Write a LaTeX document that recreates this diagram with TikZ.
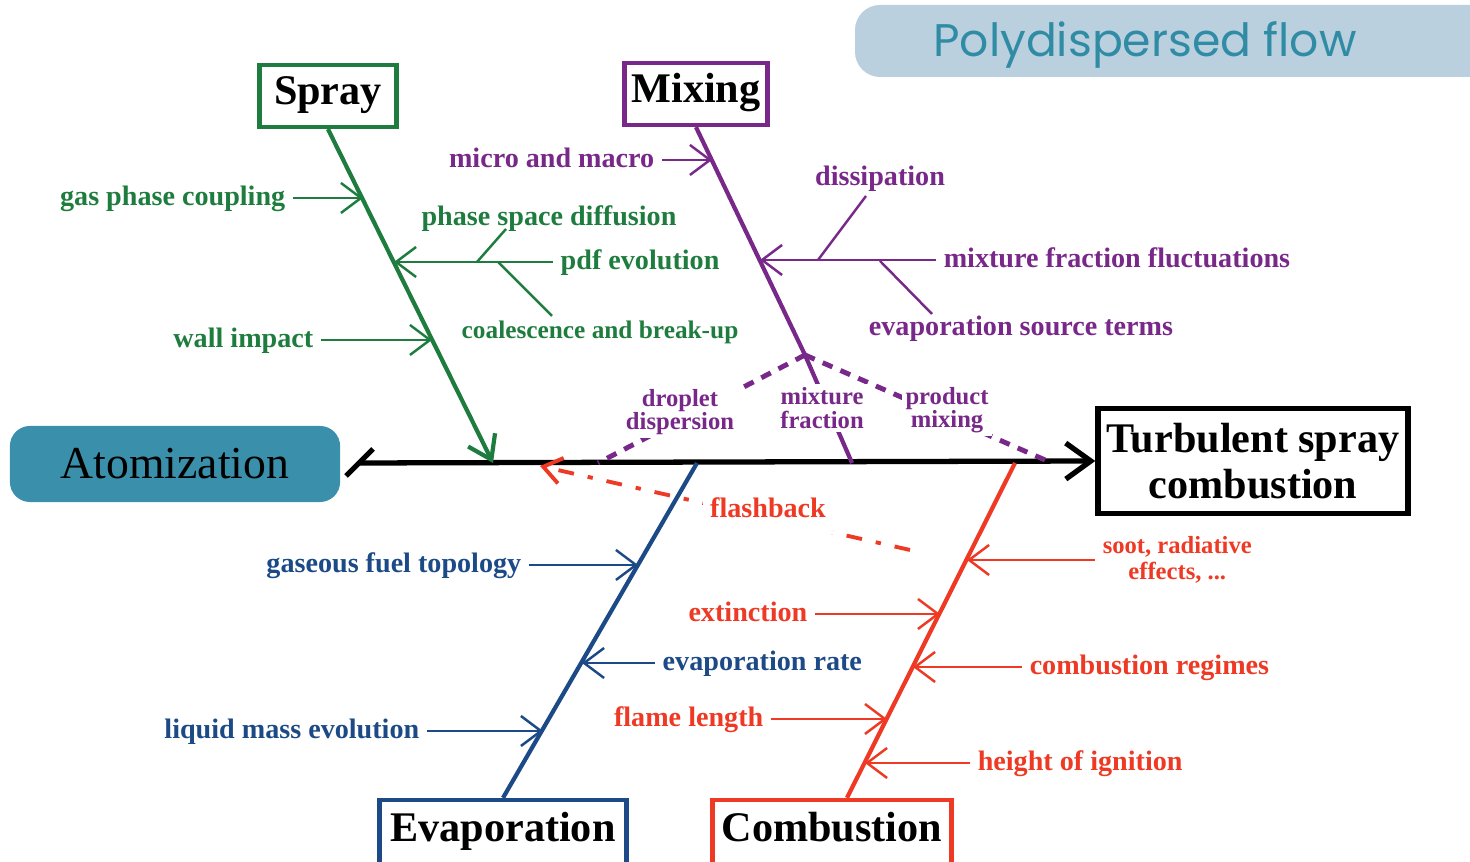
\documentclass[tikz,border=0pt]{standalone}
\usepackage{fontspec}
\setmainfont{Liberation Serif}
\newfontfamily\polyfont{Poppins}
\usetikzlibrary{arrows.meta, calc, positioning}

\definecolor{sprayc}{RGB}{30,125,62}
\definecolor{mixc}{RGB}{120,40,136}
\definecolor{evapc}{RGB}{28,74,134}
\definecolor{combc}{RGB}{238,58,36}
\definecolor{atomc}{RGB}{58,143,171}
\definecolor{polybg}{RGB}{186,208,222}
\definecolor{polytx}{RGB}{48,140,165}

\begin{document}
\begin{tikzpicture}[x=0.01cm, y=-0.01cm,
    lbl/.style={font=\fontsize{8}{9}\selectfont\bfseries, inner sep=2pt, text height=0.7em, text depth=0.25em},
    small/.style={font=\fontsize{7}{6.6}\selectfont\bfseries, align=center, inner sep=1pt, fill=white},
    catbox/.style={draw, line width=1.2pt, fill=white, inner sep=0pt, text height=0.7em, text depth=0.2em, font=\fontsize{12}{13}\selectfont\bfseries},
    bone/.style={line width=1.2pt},
    twig/.style={line width=0.7pt, -{Straight Barb[length=2mm, width=3mm]}},
    branch/.style={line width=1.4pt, dash pattern=on 3pt off 2.5pt}]
    \useasboundingbox (0,0) rectangle (1470,862);

    % Title
    \fill[polybg, rounded corners=2.5mm] (855,5) rectangle (1520,77);
    \node[font=\polyfont\fontsize{13}{15}\selectfont, text=polytx] (poly) at (1145,45) {Polydispersed flow};

    % Head and tail
    \node[fill=atomc, rounded corners=2mm, minimum width=3.3cm, minimum height=0.76cm, font=\fontsize{13}{14}\selectfont] (atom) at (175,464) {Atomization};
    \node[draw, line width=1.5pt, fill=white, inner sep=0pt, font=\fontsize{12}{13}\selectfont\bfseries, align=center, minimum width=3.1cm, minimum height=1.05cm] (effect) at (1253,461) {Turbulent spray\\combustion};

    % Spine
    \coordinate (tail) at (360,463);
    \draw[line width=1.5pt, -{Straight Barb[length=2.5mm, width=3.6mm]}] (tail) -- (effect.west);
    \draw[line width=1.5pt] ($(tail)+(-14,13)$) -- ($(tail)+(13,-14)$);

    % Categories
    \node[catbox, draw=sprayc, minimum width=1.37cm, minimum height=0.62cm] (spray) at (328,96) {Spray};
    \node[catbox, draw=mixc, minimum width=1.43cm, minimum height=0.62cm] (mixing) at (696,94) {Mixing};
    \node[catbox, draw=evapc, minimum width=2.47cm, minimum height=0.66cm] (evap) at (503,833) {Evaporation};
    \node[catbox, draw=combc, minimum width=2.39cm, minimum height=0.66cm] (comb) at (832,833) {Combustion};

    % Bones
    \coordinate (sprayEnd) at (493,463);
    \coordinate (mixJoin) at (805,355);
    \coordinate (evapEnd) at (697,463);
    \coordinate (combFoot) at ($(comb.north)+(15,0)$);
    \coordinate (combEnd) at (1015,463);
    \draw[bone, sprayc, -{Straight Barb[length=2.2mm, width=3mm]}] (spray.south) -- (sprayEnd);
    \draw[bone, mixc] (mixing.south) -- (mixJoin);
    \draw[bone, evapc] (evap.north) -- (evapEnd);
    \draw[bone, combc] (combFoot) -- (combEnd);

    % Spray causes
    \coordinate (s1) at (363,198);
    \coordinate (s2) at (394,262);
    \coordinate (s3) at (432,340);
    \node[lbl, text=sprayc, anchor=east] (gpc) at (293,198) {gas phase coupling};
    \node[lbl, text=sprayc, anchor=west] (pdf) at (553,262) {pdf evolution};
    \node[lbl, text=sprayc, anchor=east] (wall) at (321,340) {wall impact};
    \node[lbl, text=sprayc] (psd) at (549,218) {phase space diffusion};
    \node[lbl, text=sprayc, font=\fontsize{7.2}{9}\selectfont\bfseries] (coal) at (600,331) {coalescence and break-up};
    \draw[twig, sprayc] (gpc) -- (s1);
    \draw[twig, sprayc] (pdf) -- (s2);
    \draw[twig, sprayc] (wall) -- (s3);
    \draw[line width=0.7pt, sprayc] (477,262) -- (506,229);
    \draw[line width=0.7pt, sprayc] (498,262) -- (552,316);

    % Mixing causes
    \coordinate (m1) at (712,160);
    \coordinate (m2) at (760,260);
    \node[lbl, text=mixc, anchor=east] (mam) at (662,160) {micro and macro};
    \node[lbl, text=mixc, anchor=west] (mff) at (936,260) {mixture fraction fluctuations};
    \node[lbl, text=mixc] (diss) at (880,178) {dissipation};
    \node[lbl, text=mixc] (est) at (1021,328) {evaporation source terms};
    \draw[twig, mixc] (mam) -- (m1);
    \draw[twig, mixc] (mff) -- (m2);
    \draw[line width=0.7pt, mixc] (818,260) -- (866,196);
    \draw[line width=0.7pt, mixc] (880,261) -- (932,314);

    % Mixing links to the spine
    \draw[branch, mixc] (mixJoin) -- (598,463);
    \draw[bone, mixc] (mixJoin) -- (852,463);
    \draw[branch, mixc] (mixJoin) -- (1052,463);
    \node[small, text=mixc] (drop) at (680,412) {droplet\\dispersion};
    \node[small, text=mixc] (mixf) at (822,408) {mixture\\fraction};
    \node[small, text=mixc] (prod) at (947,410) {product\\mixing};

    % Flashback
    \coordinate (fbStart) at (910,550);
    \coordinate (fbEnd) at (540,466);
    \draw[line width=1.1pt, combc, dash pattern=on 4.5pt off 4pt on 1.5pt off 4pt, -{Straight Barb[length=1.8mm, width=2.6mm]}] (fbStart) -- (fbEnd);
    \node[lbl, text=combc, fill=white] (flash) at (768,510) {flashback};

    % Evaporation causes
    \coordinate (e1) at (638,565);
    \coordinate (e2) at (582,663);
    \coordinate (e3) at (543,731);
    \node[lbl, text=evapc, anchor=east] (gft) at (529,565) {gaseous fuel topology};
    \node[lbl, text=evapc, anchor=west] (evr) at (655,663) {evaporation rate};
    \node[lbl, text=evapc, anchor=east] (lme) at (427,731) {liquid mass evolution};
    \draw[twig, evapc] (gft) -- (e1);
    \draw[twig, evapc] (evr) -- (e2);
    \draw[twig, evapc] (lme) -- (e3);

    % Combustion causes
    \coordinate (c1) at (967,560);
    \coordinate (c2) at (940,614);
    \coordinate (c3) at (913,667);
    \coordinate (c4) at (887,719);
    \coordinate (c5) at (865,763);
    \node[font=\fontsize{7}{7.4}\selectfont\bfseries, text=combc, align=center, anchor=west, inner sep=2pt] (soot) at (1095,560) {soot, radiative\\effects, ...};
    \node[lbl, text=combc, anchor=east] (ext) at (815,614) {extinction};
    \node[lbl, text=combc, anchor=west] (creg) at (1022,667) {combustion regimes};
    \node[lbl, text=combc, anchor=east] (flm) at (771,719) {flame length};
    \node[lbl, text=combc, anchor=west] (hoi) at (970,763) {height of ignition};
    \draw[twig, combc] (soot) -- (c1);
    \draw[twig, combc] (ext) -- (c2);
    \draw[twig, combc] (creg) -- (c3);
    \draw[twig, combc] (flm) -- (c4);
    \draw[twig, combc] (hoi) -- (c5);
\end{tikzpicture}
\end{document}
